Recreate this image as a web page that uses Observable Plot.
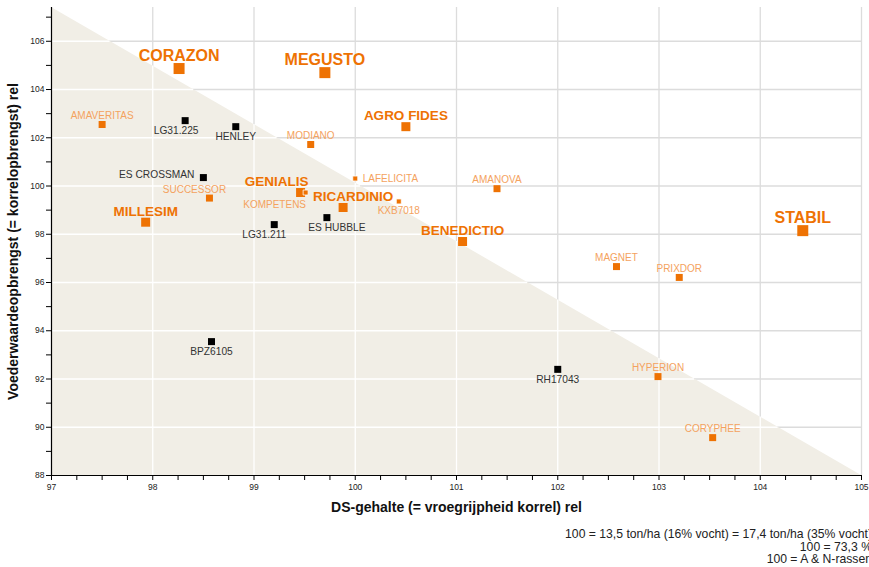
<!DOCTYPE html>
<html>
<head>
<meta charset="utf-8">
<script src="https://cdn.jsdelivr.net/npm/d3@7"></script>
<script src="https://cdn.jsdelivr.net/npm/@observablehq/plot@0.6"></script>
<style>
  html, body { margin: 0; padding: 0; background: #fff; overflow: hidden; width: 869px; height: 567px; }
  #chart { width: 869px; }
  #caption { width: 872px; text-align: right; font: 12.2px Helvetica, Arial, "Liberation Sans", sans-serif;
             line-height: 12.5px; color: #222; margin-top: 6px; white-space: nowrap; }
</style>
</head>
<body>
<div id="chart"></div>
<div id="caption">
  <div>100 = 13,5 ton/ha (16% vocht) = 17,4 ton/ha (35% vocht)</div>
  <div>100 = 73,3 %</div>
  <div>100 = A &amp; N-rassen</div>
</div>
<script>
// ---- data ----
const rassen = ["CORAZON","MEGUSTO","STABIL","AGRO FIDES","RICARDINIO","BENEDICTIO","MILLESIM","GENIALIS",
  "AMAVERITAS","MODIANO","AMANOVA","SUCCESSOR","MAGNET","PRIXDOR","HYPERION","CORYPHEE",
  "LAFELICITA","KXB7018","KOMPETENS",
  "LG31.225","HENLEY","ES CROSSMAN","LG31.211","ES HUBBLE","BPZ6105","RH17043"];
const dsGehalte = [98.26, 99.70, 104.42, 100.50, 99.88, 101.06, 97.93, 99.46,
  97.50, 99.56, 101.40, 98.56, 102.58, 103.20, 102.99, 103.53,
  100.00, 100.43, 99.51,
  98.32, 98.82, 98.50, 99.20, 99.72, 98.58, 102.00];
const opbrengst = [104.87, 104.70, 98.15, 102.46, 99.11, 97.70, 98.50, 99.73,
  102.55, 101.72, 99.89, 99.50, 96.66, 96.21, 92.10, 89.57,
  100.31, 99.36, 99.73,
  102.71, 102.46, 100.35, 98.40, 98.69, 93.55, 92.40];
const klasse = ["A","A","A","B","B","B","B","B",
  "C","C","C","C","C","C","C","C",
  "D","D","D",
  "K","K","K","K","K","K","K"];
// label placement (layout)
const labelPos = ["above","above","above","above","above","above","above","above",
  "above","above","above","above","above","above","above","above",
  "right","below","below",
  "below","below","left","below","below","below","below"];
const labelDx = [0,0,0,0,10,0,0,-24, 0,0,0,-15,0,0,0,0, 0,0,-31, -9,0,0,-10,10,0,0];
const labelDy = [0,0,0,0,0,0,0,0, 0,0,0,0,0,0,0,0, 0,0,3, 0,0,-3,0,0,0,0];
const xTicks = d3.range(97, 105.001, 0.25);
const yTicks = d3.range(88, 108, 1);
const xGrid = d3.range(98, 106, 1);
const yGrid = d3.range(90, 107, 2);

// ---- styles ----
const font = "Helvetica, Arial, 'Liberation Sans', sans-serif";
const style = {
  A: {side: 11, fill: "#ee7203", tcolor: "#ee7203", fs: 16, fw: "bold"},
  B: {side: 9, fill: "#ee7203", tcolor: "#ee7203", fs: 13.5, fw: "bold"},
  C: {side: 7, fill: "#ee7203", tcolor: "#f4a25e", fs: 10, fw: "normal"},
  D: {side: 5, fill: "#ee7203", tcolor: "#f4a25e", fs: 10, fw: "normal"},
  K: {side: 7, fill: "#000000", tcolor: "#333333", fs: 10.2, fw: "normal"}
};

const data = rassen.map((n, i) => ({
  naam: n, x: dsGehalte[i], y: opbrengst[i], k: klasse[i],
  pos: labelPos[i], dx: labelDx[i], dy: labelDy[i]
}));

const xDom = [97, 105], yDom = [88, 107.4];
const hyp = [{x: xDom[0], y: yDom[1]}, {x: xDom[1], y: yDom[0]}];
const yAt = x => yDom[1] - (x - xDom[0]) * (yDom[1] - yDom[0]) / (xDom[1] - xDom[0]);
const xAt = y => xDom[0] + (yDom[1] - y) * (xDom[1] - xDom[0]) / (yDom[1] - yDom[0]);

const dotMarks = Object.keys(style).map(k => {
  const s = style[k];
  return Plot.dot(data.filter(d => d.k === k), {
    x: "x", y: "y", symbol: "square", r: s.side / Math.sqrt(Math.PI),
    fill: s.fill, stroke: k === "D" ? "#fff" : "none", strokeWidth: 0.8
  });
});

const labelMarks = data.map(d => {
  const s = style[d.k];
  const o = {x: "x", y: "y", text: "naam", fill: s.tcolor, fontSize: s.fs, fontWeight: s.fw, fontFamily: font};
  if (d.pos === "above") Object.assign(o, {textAnchor: "middle", lineAnchor: "bottom", dx: d.dx, dy: -(s.side / 2 + 2) + d.dy});
  else if (d.pos === "below") Object.assign(o, {textAnchor: "middle", lineAnchor: "top", dx: d.dx, dy: s.side / 2 + 2.5 + d.dy});
  else if (d.pos === "left") Object.assign(o, {textAnchor: "end", lineAnchor: "middle", dx: -(s.side / 2 + 5.5) + d.dx, dy: d.dy});
  else Object.assign(o, {textAnchor: "start", lineAnchor: "middle", dx: s.side / 2 + 5 + d.dx, dy: d.dy});
  return Plot.text([d], o);
});

const chart = Plot.plot({
  width: 869, height: 522,
  marginTop: 7, marginLeft: 51, marginRight: 8, marginBottom: 47,
  style: {fontFamily: font, color: "#222", background: "#fff"},
  x: {domain: xDom},
  y: {domain: yDom},
  marks: [
    Plot.ruleX(xGrid, {x: d => d, y1: yDom[0], y2: yDom[1], stroke: "#dcdcdc", strokeWidth: 1.3}),
    Plot.ruleY(yGrid, {y: d => d, x1: xDom[0], x2: xDom[1], stroke: "#dcdcdc", strokeWidth: 1.3}),
    Plot.areaY(hyp, {x: "x", y1: yDom[0], y2: "y", fill: "#f1eee6"}),
    Plot.ruleX(xGrid, {x: d => d, y1: yDom[0], y2: d => yAt(d), stroke: "#fff", strokeWidth: 1.3}),
    Plot.ruleY(yGrid, {y: d => d, x1: xDom[0], x2: d => xAt(d), stroke: "#fff", strokeWidth: 1.3}),
    Plot.axisX({ticks: xTicks, tickFormat: d => Number.isInteger(d) ? String(d) : "", tickSize: 5, tickPadding: 3, fontSize: 8.5, label: null, stroke: "#000"}),
    Plot.axisY({ticks: yTicks, tickFormat: d => d % 2 === 0 ? String(d) : "", tickSize: 5, tickPadding: 2, fontSize: 8.5, label: null, stroke: "#000"}),
    Plot.ruleX([xDom[0]], {y1: yDom[0], y2: yDom[1], stroke: "#000", strokeWidth: 1.2}),
    Plot.ruleY([yDom[0]], {x1: xDom[0], x2: xDom[1], stroke: "#000", strokeWidth: 1.2}),
    ...dotMarks,
    ...labelMarks,
    Plot.text(["DS-gehalte (= vroegrijpheid korrel) rel"], {frameAnchor: "bottom", textAnchor: "middle", dy: 36, fontSize: 14, fontWeight: "bold", fill: "#111", fontFamily: font}),
    Plot.text(["Voederwaardeopbrengst (= korrelopbrengst) rel"], {frameAnchor: "left", textAnchor: "middle", rotate: -90, dx: -38, fontSize: 14, fontWeight: "bold", fill: "#111", fontFamily: font})
  ]
});
document.getElementById("chart").appendChild(chart);
</script>
</body>
</html>
